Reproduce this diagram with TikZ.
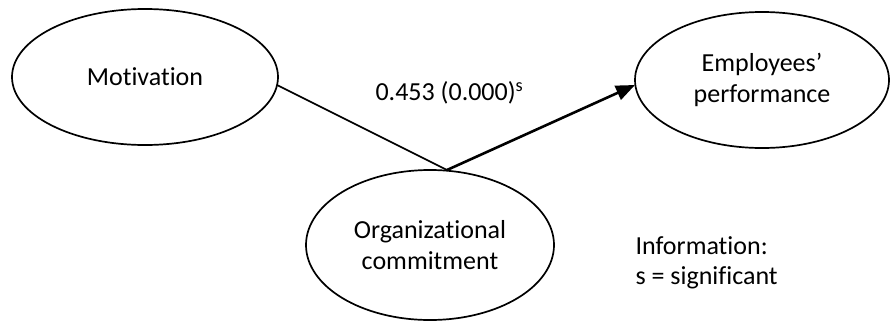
\documentclass[tikz,border=0pt]{standalone}
\usepackage{fontspec}
\setmainfont{Carlito}[Ligatures=NoCommon]
\usetikzlibrary{shapes.geometric,arrows.meta}
\begin{document}
\begin{tikzpicture}[x=1pt,y=-1pt,
  construct/.style={draw, ellipse, line width=1.7pt, inner sep=0pt, align=center,
    font=\fontsize{26}{31}\selectfont},
  plain/.style={align=left, font=\fontsize{26}{30}\selectfont},
  path/.style={line width=1.7pt},
  patharrow/.style={line width=2.6pt, -{Triangle[length=19pt,width=15pt]}}]
\useasboundingbox (0,0) rectangle (891,322);
\node[construct, minimum width=266pt, minimum height=136pt] (mot) at (145,77) {Motivation};
\node[construct, minimum width=254pt, minimum height=136pt] (emp) at (762,80) {Employees’\\performance};
\node[construct, minimum width=248pt, minimum height=150pt] (org) at (430,245) {Organizational\\commitment};
\coordinate (apex) at (447,170);
\coordinate (ms) at (277,85);
\coordinate (et) at (635,85);
\draw[path] (ms) -- (apex);
\draw[patharrow] (apex) -- (et);
\node[plain, anchor=west] (lbl) at (372,93) {0.453 (0.000)\textsuperscript{s}};
\node[plain, anchor=west] (info) at (632,263) {Information:\\s = significant};
\end{tikzpicture}
\end{document}
